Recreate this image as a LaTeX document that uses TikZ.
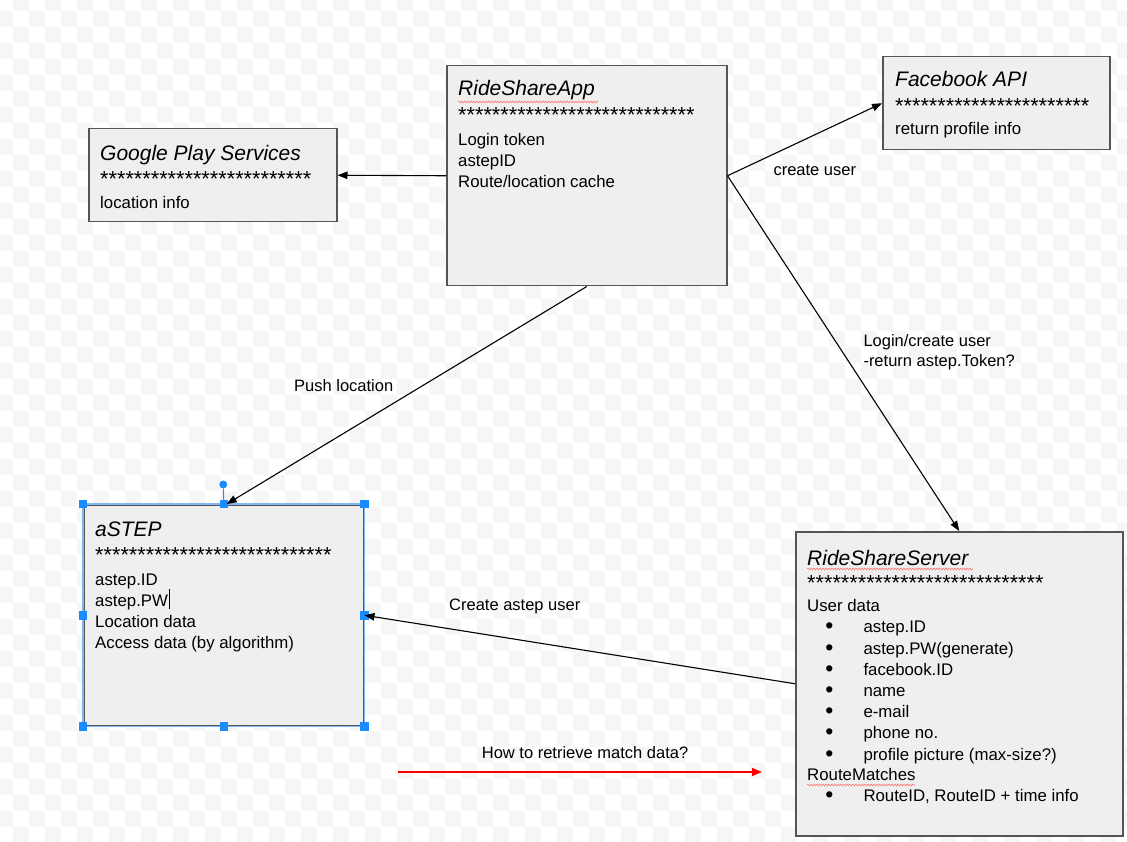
\documentclass[tikz,border=0pt]{standalone}
\usepackage{fontspec}
\setmainfont{Liberation Sans}
\usetikzlibrary{arrows.meta,decorations.pathmorphing}
\definecolor{boxfill}{HTML}{EFEFEF}
\definecolor{boxline}{HTML}{555555}
\definecolor{checker}{HTML}{F6F6F6}
\definecolor{selblue}{HTML}{1A8CFF}
\definecolor{selline}{HTML}{7FB8F5}
\begin{document}
\begin{tikzpicture}[x=1pt,y=-1pt,
  box/.style={draw=boxline, fill=boxfill, line width=1.5pt, rectangle, inner sep=0pt, anchor=north west},
  ttl/.style={anchor=base west, inner sep=0pt, font=\fontsize{21}{24}\selectfont\itshape},
  stars/.style={anchor=base west, inner sep=0pt, font=\fontsize{21.7}{24}\selectfont},
  body/.style={anchor=base west, inner sep=0pt, font=\fontsize{16.8}{21}\selectfont},
  bul/.style={anchor=base, inner sep=0pt, font=\fontsize{23}{21}\selectfont},
  lbl/.style={anchor=base west, inner sep=0pt, font=\fontsize{16.5}{20}\selectfont},
  conn/.style={draw=black, line width=1.1pt, -{Triangle[length=10pt,width=7.5pt]}},
  squig/.style={draw=red!55, line width=0.6pt, decorate, decoration={snake, amplitude=0.9pt, segment length=3pt}},
  handle/.style={fill=selblue, minimum size=8.5pt, inner sep=0pt, rectangle},
]
\useasboundingbox (0,0) rectangle (1127,842);
\fill[white] (0,0) rectangle (1127,842);
\begin{scope}
\clip (0,0) rectangle (1127,842);
\foreach \j in {0,...,53}{
  \foreach \i in {0,...,35}{
    \fill[checker] ({-2.7+16*(2*\i+mod(\j+1,2))}, {-5.3+16*\j}) rectangle ++(16,16);
  }
}
\end{scope}

% boxes
\node[box, minimum width=280pt, minimum height=220pt] (app) at (446,65) {};
\node[box, minimum width=248pt, minimum height=93pt] (gps) at (88,128) {};
\node[box, minimum width=227pt, minimum height=93pt] (fb) at (882,56) {};
\node[box, minimum width=280pt, minimum height=221pt] (astep) at (83,504) {};
\node[box, minimum width=327pt, minimum height=304pt] (srv) at (795,531) {};

% RideShareApp text
\node[ttl] (appT) at (458,96) {RideShareApp};
\node[stars] (appS) at (458,122.8) {****************************};
\node[body] (appA) at (458,146) {Login token};
\node[body] (appB) at (458,167) {astepID};
\node[body] (appC) at (458,188) {Route/location cache};
\draw[squig] (458,102) -- (598,102);

% Google
\node[ttl] (gpsT) at (100,160.5) {Google Play Services};
\node[stars] (gpsS) at (100,187) {*************************};
\node[body] (gpsA) at (100,208.5) {location info};

% Facebook
\node[ttl] (fbT) at (895,86.7) {Facebook API};
\node[stars] (fbS) at (895,114) {***********************};
\node[body] (fbA) at (895,134.5) {return profile info};

% aSTEP
\node[ttl] (asT) at (95,536.7) {aSTEP};
\node[stars] (asS) at (95,562.7) {****************************};
\node[body] (asA) at (95,585) {astep.ID};
\node[body] (asB) at (95,606) {astep.PW};
\node[body] (asC) at (95,627) {Location data};
\node[body] (asD) at (95,648) {Access data (by algorithm)};
\draw[line width=1.3pt] (169.5,589) -- (169.5,609);

% Server
\node[ttl] (svT) at (807,565) {RideShareServer};
\draw[squig] (807,569) -- (973,569);
\node[stars] (svS) at (807,590) {****************************};
\node[body] (svU) at (807,611.7) {User data};
\foreach \t [count=\k] in {astep.ID, astep.PW(generate), facebook.ID, name, e-mail, phone no., profile picture (max-size?)}{
  \node[bul] (svb\k) at (829.3,{612.7+21.2*\k}) {•};
  \node[body] (svi\k) at (863.3,{611.7+21.2*\k}) {\t};
}
\node[body] (svR) at (807,780.7) {RouteMatches};
\draw[squig] (807,785) -- (915,785);
\node[bul] (svb8) at (829.3,802.7) {•};
\node[body] (svi8) at (863.3,801.7) {RouteID, RouteID + time info};

% selection decoration on aSTEP
\draw[selline, line width=1.6pt] (astep.north west) rectangle (astep.south east);
\node[circle, fill=selblue, minimum size=8pt, inner sep=0pt] (rot) at (223.3,484.5) {};
\draw[selblue, line width=1pt] (rot) -- (astep.north);
\foreach \a [count=\k] in {north west, north, north east, west, east, south west, south, south east}{
  \node[handle] (h\k) at (astep.\a) {};
}

% connectors
\draw[conn] (app.west) -- (gps.east);
\draw[conn] (app.east) -- (fb.west);
\draw[conn] (app.east) -- (srv.north);
\draw[conn] (app.south) -- ([xshift=3pt]astep.north);
\draw[conn] (srv.west) -- (astep.east);
\coordinate (rs) at (398,772);
\coordinate (re) at (762,772);
\draw[red, line width=1.2pt, -{Triangle[length=10pt,width=8pt]}] (rs) -- (re);

% labels
\node[lbl] (l1) at (773.3,176) {create user};
\node[lbl] (l2) at (863.3,346.7) {Login/create user};
\node[lbl] (l3) at (863.3,366.7) {-return astep.Token?};
\node[lbl] (l4) at (294,391.7) {Push location};
\node[lbl] (l5) at (449,610.7) {Create astep user};
\node[lbl] (l6) at (481.7,758.3) {How to retrieve match data?};
\end{tikzpicture}
\end{document}
